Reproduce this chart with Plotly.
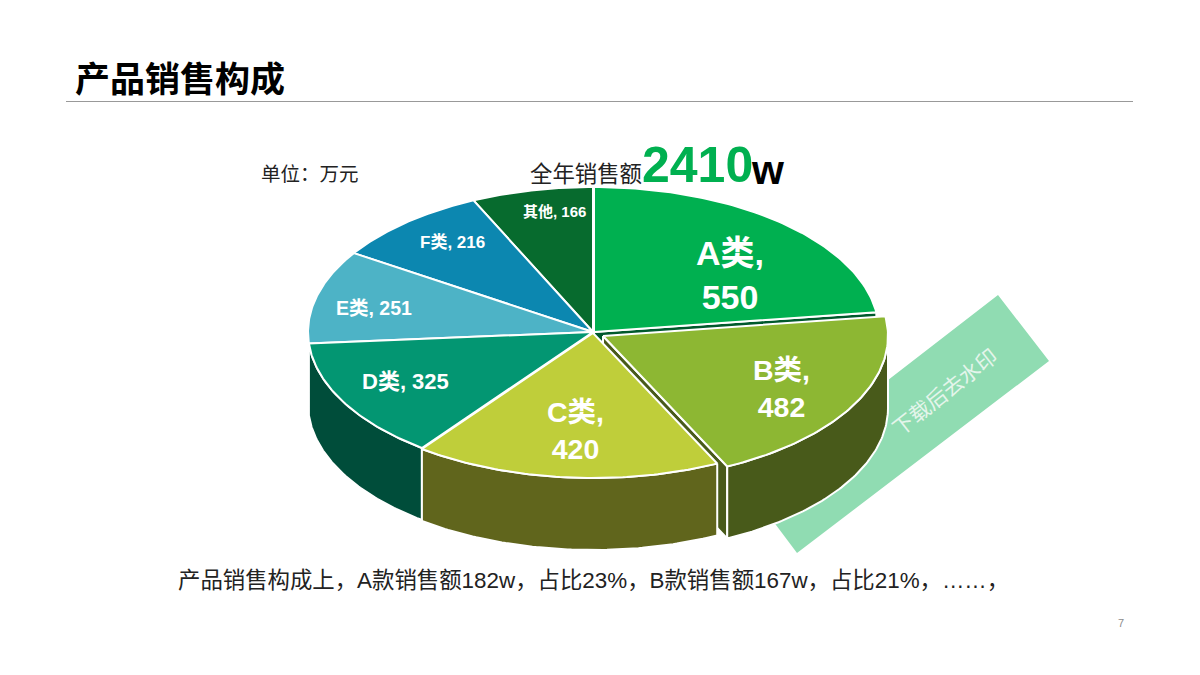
import numpy as np
import plotly.graph_objects as go

# --- DATA ---
categories = ['A类', 'B类', 'C类', 'D类', 'E类', 'F类', '其他']
values = [550, 482, 420, 325, 251, 216, 166]

# --- STYLE ---
top_colors = ['#00B050', '#8DB733', '#BFCE3A', '#039672', '#4DB3C6', '#0C87B0', '#076B2E']
wall_colors = ['#00592C', '#485A1A', '#60651C', '#004D3A', '#2A6A78', '#06506A', '#033A19']
label_x = [730, 781, 575, 405, 374, 452, 554]
label_y = [275, 388, 430, 381, 308, 242, 211]
label_size = [34, 28.5, 28.5, 22, 19.5, 17, 15]
two_lines = [True, True, True, False, False, False, False]
# small offset of the pulled out slices
offset_x = [1, 10, 0, 0, 0, 0, 0]
offset_y = [0, 4, 1, 0, 0, 0, 0]

CX, CY = 593, 332
RX, RY = 285, 145
DEPTH = 72
LATIN = 'Liberation Sans, Noto Sans CJK SC'
CJK = 'Noto Sans CJK SC, Liberation Sans'

# slice angles, clockwise from 12 o'clock
total = sum(values)
ends = np.cumsum(values) / total * 360
starts = np.concatenate([[0], ends[:-1]])

fig = go.Figure()


def rim(i, a0, a1, drop=0):
    t = np.radians(np.linspace(a0, a1, 80))
    x = CX + offset_x[i] + RX * np.sin(t)
    y = CY + offset_y[i] + drop - RY * np.cos(t)
    return list(x), list(y)


def add_poly(x, y, color):
    fig.add_trace(go.Scatter(
        x=x + x[:1], y=y + y[:1],
        mode='lines', fill='toself', fillcolor=color,
        line=dict(color='white', width=2),
        hoverinfo='skip', showlegend=False
    ))


def add_top(i):
    x, y = rim(i, starts[i], ends[i])
    add_poly([CX + offset_x[i]] + x, [CY + offset_y[i]] + y, top_colors[i])


def add_outer_wall(i):
    a0, a1 = max(starts[i], 90), min(ends[i], 270)
    x0, y0 = rim(i, a0, a1)
    x1, y1 = rim(i, a1, a0, DEPTH)
    add_poly(x0 + x1, y0 + y1, wall_colors[i])


def add_radial_wall(i, angle):
    x, y = rim(i, angle, angle)
    ax, ay = CX + offset_x[i], CY + offset_y[i]
    add_poly([ax, x[0], x[0], ax], [ay, y[0], y[0] + DEPTH, ay + DEPTH], wall_colors[i])


# --- DRAW BACK TO FRONT ---
add_outer_wall(3)
for i in [6, 5, 4, 3]:
    add_top(i)
add_radial_wall(0, ends[0])
add_top(0)
add_radial_wall(1, ends[1])
add_outer_wall(2)
add_top(2)
add_outer_wall(1)
add_top(1)

# --- TEXT ---
annotations = []


def add_text(x, y, text, size, color='#222222', family=CJK, anchor='left', angle=0, valign='middle'):
    annotations.append(dict(
        x=x, y=y, xref='x', yref='y', text=text, showarrow=False,
        xanchor=anchor, yanchor=valign, textangle=angle,
        font=dict(size=size, color=color, family=family)
    ))


for i, cat in enumerate(categories):
    sep = '<br>' if two_lines[i] else ' '
    add_text(label_x[i], label_y[i], f'<b>{cat},{sep}{values[i]}</b>', label_size[i],
             color='white', family=LATIN, anchor='center')

add_text(73, 76, '<b>产品销售构成</b>', 35, color='black')
add_text(259, 172, '单位：万元', 19.5)
add_text(528, 172, '全年销售额', 22.4)
add_text(640, 165, f'<b>{total}</b>', 50, color='#00B050', family=LATIN)
add_text(749, 170, '<b>w</b>', 41, color='black', family=LATIN)
add_text(176, 580, '产品销售构成上，A款销售额182w，占比23%，B款销售额167w，占比21%，……，', 22.4, family=LATIN)
add_text(1121, 623, '7', 11, color='#8C8C8C', family=LATIN, anchor='center')
add_text(944, 391, '下载后去水印', 21, color='#E4F5EB', angle=-38, anchor='center')

fig.update_layout(
    width=1200, height=675,
    margin=dict(l=0, r=0, t=0, b=0),
    paper_bgcolor='white', plot_bgcolor='white',
    xaxis=dict(range=[0, 1200], visible=False, fixedrange=True),
    yaxis=dict(range=[675, 0], visible=False, fixedrange=True),
    annotations=annotations,
    shapes=[
        dict(type='line', x0=66, x1=1133, y0=101.5, y1=101.5, xref='x', yref='y',
             line=dict(color='#999999', width=1)),
        dict(type='path', path='M 998 295 L 1049 361 L 797 553 L 776 525 L 746 490 Z',
             xref='x', yref='y', fillcolor='#90DCB2', line=dict(width=0), layer='below'),
    ]
)

fig.write_html('out.html', config=dict(displayModeBar=False),
               post_script="document.body.style.margin='0';")
